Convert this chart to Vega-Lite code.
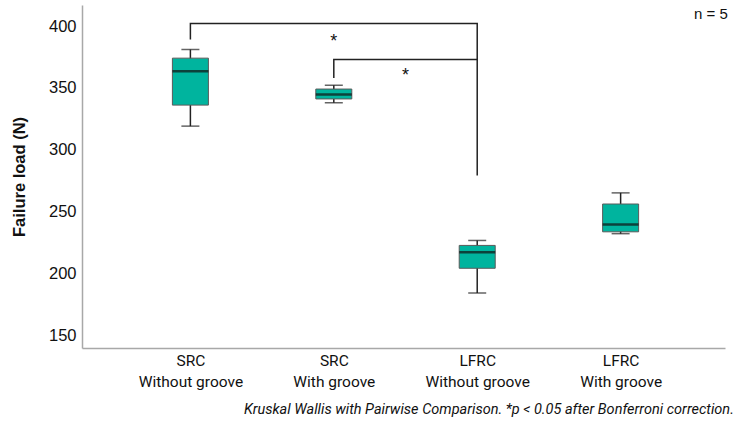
{
  "$schema": "https://vega.github.io/schema/vega-lite/v6.json",
  "width": 643,
  "height": 343,
  "autosize": "none",
  "padding": {"left": 82, "top": 5, "right": 25, "bottom": 84},
  "background": "white",
  "config": {"view": {"stroke": null}, "font": "Liberation Sans"},
  "title": {
    "text": "Kruskal Wallis with Pairwise Comparison. *p < 0.05 after Bonferroni correction.",
    "orient": "bottom",
    "anchor": "end",
    "font": "Roboto",
    "fontStyle": "italic",
    "fontWeight": "normal",
    "fontSize": 14.5,
    "color": "#111",
    "offset": 13,
    "dx": 6
  },
  "datasets": {
    "boxes": [
      {"pos": 1, "group": "SRC Without groove", "min": 319, "q1": 336, "median": 363.5, "q3": 374, "max": 381},
      {"pos": 2, "group": "SRC With groove", "min": 338, "q1": 341, "median": 344.5, "q3": 349, "max": 352},
      {"pos": 3, "group": "LFRC Without groove", "min": 184, "q1": 204, "median": 217, "q3": 222.5, "max": 226.5},
      {"pos": 4, "group": "LFRC With groove", "min": 232, "q1": 233.5, "median": 239.5, "q3": 256, "max": 265}
    ],
    "brackets": [
      {"bracket": "a", "order": 1, "x": 1, "y": 389},
      {"bracket": "a", "order": 2, "x": 1, "y": 402},
      {"bracket": "a", "order": 3, "x": 3, "y": 402},
      {"bracket": "a", "order": 4, "x": 3, "y": 279},
      {"bracket": "b", "order": 1, "x": 2, "y": 358},
      {"bracket": "b", "order": 2, "x": 2, "y": 373},
      {"bracket": "b", "order": 3, "x": 3, "y": 373}
    ],
    "stars": [
      {"x": 2, "y": 389.5, "label": "*"},
      {"x": 2.5, "y": 362, "label": "*"}
    ],
    "note": [{"x": 4.63, "y": 410, "label": "n = 5"}]
  },
  "encoding": {
    "x": {
      "type": "quantitative",
      "scale": {"domain": [0.279, 4.693], "nice": false, "zero": false},
      "axis": {
        "title": null,
        "values": [1, 2, 3, 4],
        "grid": false,
        "ticks": false,
        "domainColor": "#a8a8a8",
        "domainWidth": 1.5,
        "labelExpr": "datum.value == 1 ? ['SRC', 'Without groove'] : datum.value == 2 ? ['SRC', 'With groove'] : datum.value == 3 ? ['LFRC', 'Without groove'] : ['LFRC', 'With groove']",
        "labelFont": "Roboto",
        "labelFontSize": 15.5,
        "labelColor": "#111",
        "labelPadding": 5,
        "labelLineHeight": 21
      }
    }
  },
  "layer": [
    {
      "data": {"name": "boxes"},
      "mark": {"type": "rule", "color": "#222", "strokeWidth": 1.5},
      "encoding": {
        "x": {"field": "pos"},
        "y": {
          "field": "min",
          "type": "quantitative",
          "scale": {"domain": [139.5, 417], "nice": false, "zero": false},
          "axis": {
            "title": "Failure load (N)",
            "titleFont": "Liberation Sans",
            "titleFontSize": 16.5,
            "titleFontWeight": "bold",
            "titleColor": "#111",
            "titlePadding": 21,
            "values": [150, 200, 250, 300, 350, 400],
            "grid": false,
            "ticks": false,
            "domainColor": "#a8a8a8",
            "domainWidth": 1.5,
            "labelFontSize": 16.5,
            "labelColor": "#111",
            "labelPadding": 6
          }
        },
        "y2": {"field": "max"}
      }
    },
    {
      "data": {"name": "boxes"},
      "mark": {"type": "tick", "orient": "horizontal", "color": "#222", "size": 18, "thickness": 1.5},
      "encoding": {"x": {"field": "pos"}, "y": {"field": "min", "type": "quantitative"}}
    },
    {
      "data": {"name": "boxes"},
      "mark": {"type": "tick", "orient": "horizontal", "color": "#222", "size": 18, "thickness": 1.5},
      "encoding": {"x": {"field": "pos"}, "y": {"field": "max", "type": "quantitative"}}
    },
    {
      "data": {"name": "boxes"},
      "mark": {"type": "bar", "size": 36, "fill": "#00B49E", "stroke": "#5a5a5a", "strokeWidth": 1},
      "encoding": {"x": {"field": "pos"}, "y": {"field": "q1", "type": "quantitative"}, "y2": {"field": "q3"}}
    },
    {
      "data": {"name": "boxes"},
      "mark": {"type": "tick", "orient": "horizontal", "color": "#111", "size": 36, "thickness": 2.5},
      "encoding": {"x": {"field": "pos"}, "y": {"field": "median", "type": "quantitative"}}
    },
    {
      "data": {"name": "brackets"},
      "mark": {"type": "line", "color": "#222", "strokeWidth": 1.5, "interpolate": "linear"},
      "encoding": {
        "x": {"field": "x"},
        "y": {"field": "y", "type": "quantitative"},
        "detail": {"field": "bracket"},
        "order": {"field": "order"}
      }
    },
    {
      "data": {"name": "stars"},
      "mark": {"type": "text", "fontSize": 18, "color": "#111", "baseline": "middle", "dy": 3},
      "encoding": {
        "x": {"field": "x"},
        "y": {"field": "y", "type": "quantitative"},
        "text": {"field": "label"}
      }
    },
    {
      "data": {"name": "note"},
      "mark": {"type": "text", "fontSize": 15, "color": "#111", "font": "Liberation Sans", "baseline": "middle"},
      "encoding": {
        "x": {"field": "x"},
        "y": {"field": "y", "type": "quantitative"},
        "text": {"field": "label"}
      }
    }
  ]
}
